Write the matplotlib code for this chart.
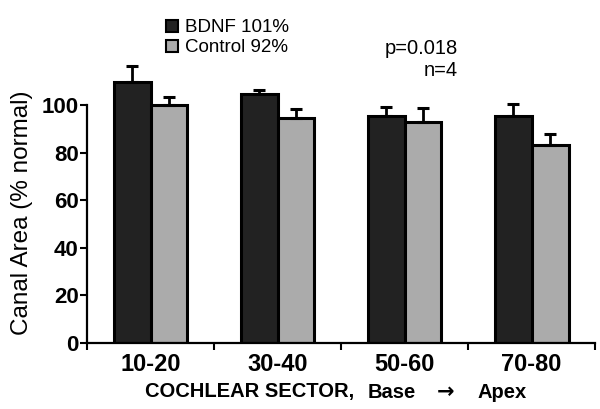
import numpy as np
import matplotlib.pyplot as plt
from matplotlib.patches import Patch

# canal area by cochlear sector
sectors = ['10-20', '30-40', '50-60', '70-80']
bdnf = [109.5, 104.8, 95.5, 95.5]
bdnf_err = [7.0, 1.6, 3.8, 5.0]
control = [100.0, 94.6, 93.0, 83.3]
control_err = [3.4, 3.8, 5.7, 4.6]

DARK = '#222222'
GRAY = '#ababab'


def plot_chart() -> None:
    fig = plt.figure(figsize=(6, 4.09), dpi=100)
    ax = fig.add_axes([0.145, 0.1614, 0.847, 0.6983])

    x = np.arange(1, len(sectors) + 1)
    w = 0.29
    ax.bar(x - w / 2, bdnf, w, color=DARK, edgecolor='black', linewidth=2.2, zorder=2)
    ax.bar(x + w / 2, control, w, color=GRAY, edgecolor='black', linewidth=2.2, zorder=2)
    ax.errorbar(x - w / 2, bdnf, yerr=[np.zeros(4), bdnf_err], fmt='none',
                ecolor='black', elinewidth=2, capsize=4, capthick=2.2, zorder=3)
    ax.errorbar(x + w / 2, control, yerr=[np.zeros(4), control_err], fmt='none',
                ecolor='black', elinewidth=2, capsize=4, capthick=2.2, zorder=3)

    ax.set_xlim(0.5, 4.5)
    ax.set_ylim(0, 120)
    for s in ['top', 'right']:
        ax.spines[s].set_visible(False)
    ax.spines['left'].set_bounds(0, 100)
    ax.spines['left'].set_linewidth(1.6)
    ax.spines['bottom'].set_linewidth(1.6)

    ax.set_yticks([0, 20, 40, 60, 80, 100])
    ax.tick_params(axis='y', length=5, width=1.5, pad=1, labelsize=16)
    for t in ax.get_yticklabels():
        t.set_fontweight('bold')
        t.set_family('Liberation Sans')

    # ticks between groups, labels at group centres
    ax.set_xticks(np.arange(0.5, 4.6, 1.0))
    ax.set_xticklabels([])
    ax.tick_params(axis='x', which='major', length=5, width=1.5)
    ax.set_xticks(x, minor=True)
    ax.set_xticklabels(sectors, minor=True, fontsize=17, fontweight='bold',
                       family='Liberation Sans')
    ax.tick_params(axis='x', which='minor', length=0, pad=7)

    fig.text(22 / 600, 1 - 213 / 409, 'Canal Area (% normal)', rotation=90,
             ha='center', va='center', fontsize=17.5, family='Liberation Sans')

    # x axis caption in pieces so the arrow can be larger
    ly = 1 - 392 / 409
    cap = dict(va='center', ha='center', fontsize=14.5, fontweight='bold',
               family='Liberation Sans')
    fig.text(250 / 600, ly, 'COCHLEAR SECTOR,', **cap)
    fig.text(392 / 600, ly, 'Base', **cap)
    fig.text(446 / 600, ly, '\u2192', va='center', ha='center', fontsize=15,
             fontweight='bold', family='DejaVu Sans')
    fig.text(502 / 600, ly, 'Apex', **cap)

    handles = [Patch(facecolor=DARK, edgecolor='black', linewidth=1.5),
               Patch(facecolor=GRAY, edgecolor='black', linewidth=1.5)]
    fig.legend(handles, ['BDNF 101%', 'Control 92%'], loc='upper left',
               bbox_to_anchor=(157 / 600, 1 - 10 / 409), frameon=False,
               handlelength=0.6, handleheight=0.6, handletextpad=0.4,
               labelspacing=0.15, borderpad=0,
               prop={'family': 'Liberation Sans', 'size': 13.5})

    fig.text(458 / 600, 1 - 49 / 409, 'p=0.018', ha='right', va='center',
             fontsize=14.5, family='Liberation Sans')
    fig.text(458 / 600, 1 - 71 / 409, 'n=4', ha='right', va='center',
             fontsize=14.5, family='Liberation Sans')

    fig.savefig('out.png', dpi=100)


if __name__ == '__main__':
    plot_chart()
